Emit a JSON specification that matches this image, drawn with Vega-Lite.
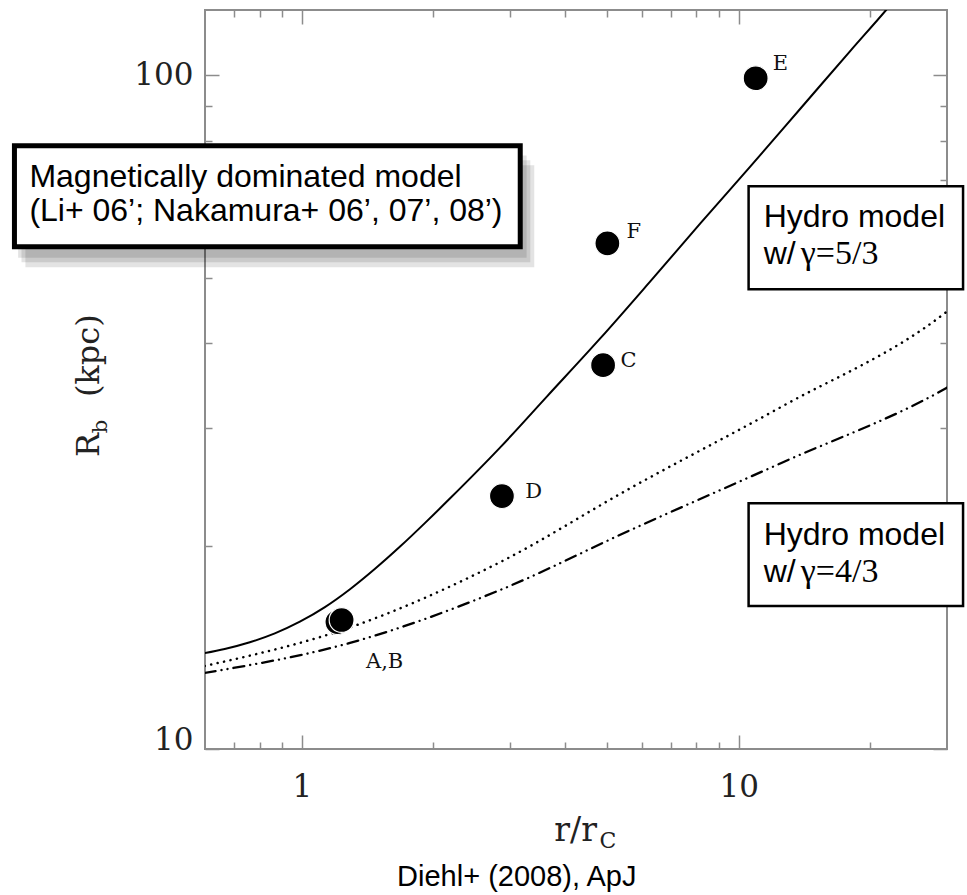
{
  "$schema": "https://vega.github.io/schema/vega-lite/v6.json",
  "width": 742,
  "height": 739,
  "autosize": "none",
  "padding": {"left": 205, "top": 10, "right": 20, "bottom": 146},
  "background": "white",
  "config": {
    "view": {"stroke": "#8c8c8c", "strokeWidth": 2},
    "axis": {"domain": false, "grid": false, "tickColor": "#8c8c8c", "tickWidth": 1.5, "labelFont": "DejaVu Serif", "labelFontSize": 31, "labelColor": "#222", "title": null}
  },
  "datasets": {
    "solid": [
      {"r": 0.599, "R": 13.88}, {"r": 0.6657, "R": 14.076}, {"r": 0.76, "R": 14.402}, {"r": 0.8671, "R": 14.846},
      {"r": 0.9895, "R": 15.45}, {"r": 1.1291, "R": 16.239}, {"r": 1.2887, "R": 17.262}, {"r": 1.4705, "R": 18.511},
      {"r": 1.678, "R": 19.972}, {"r": 1.9148, "R": 21.658}, {"r": 2.185, "R": 23.556}, {"r": 2.8456, "R": 28.037},
      {"r": 3.647, "R": 33.406}, {"r": 4.826, "R": 40.719}, {"r": 6.2839, "R": 49.486}, {"r": 8.1811, "R": 60.316},
      {"r": 10.654, "R": 73.3}, {"r": 13.874, "R": 89.34}, {"r": 18.066, "R": 108.91}, {"r": 21.74, "R": 124.9},
      {"r": 22.677, "R": 128.99}
    ],
    "dotted": [
      {"r": 0.599, "R": 13.28}, {"r": 1.337, "R": 15.28}, {"r": 2.845, "R": 18.94}, {"r": 5.65, "R": 24.39},
      {"r": 12.49, "R": 32.17}, {"r": 29.84, "R": 44.5}, {"r": 30.5, "R": 45.0}
    ],
    "dashdot": [
      {"r": 0.599, "R": 12.97}, {"r": 1.289, "R": 14.37}, {"r": 2.845, "R": 17.22}, {"r": 5.65, "R": 21.13},
      {"r": 12.49, "R": 26.56}, {"r": 29.84, "R": 34.32}, {"r": 30.5, "R": 34.6}
    ],
    "points": [
      {"id": "B", "r": 1.206, "R": 15.43}, {"id": "A", "r": 1.233, "R": 15.54},
      {"id": "D", "r": 2.871, "R": 23.74}, {"id": "C", "r": 4.894, "R": 37.13},
      {"id": "F", "r": 5.006, "R": 56.3}, {"id": "E", "r": 10.94, "R": 99.0}
    ],
    "ptlabels": [
      {"t": "E", "r": 11.97, "R": 101.7}, {"t": "F", "r": 5.535, "R": 57.3},
      {"t": "C", "r": 5.363, "R": 36.88}, {"t": "D", "r": 3.247, "R": 23.57},
      {"t": "A,B", "r": 1.402, "R": 13.19}
    ],
    "shadow": [
      {"r": 0.228, "r2": 3.334, "R": 74.8, "R2": 52.8},
      {"r": 0.2328, "r2": 3.405, "R": 73.55, "R2": 51.9},
      {"r": 0.224, "r2": 3.27, "R": 76.0, "R2": 53.6}
    ],
    "magbox": [{"r": 0.2197, "r2": 3.162, "R": 78.6, "R2": 55.67}],
    "hydroboxes": [
      {"r": 10.54, "r2": 32.65, "R": 68.45, "R2": 48.14},
      {"r": 10.54, "r2": 32.65, "R": 23.17, "R2": 16.3}
    ],
    "sanstext": [
      {"t": "Magnetically dominated model", "r": 0.2377, "R": 68.22},
      {"t": "(Li+ 06’; Nakamura+ 06’, 07’, 08’)", "r": 0.2377, "R": 60.8},
      {"t": "Hydro model", "r": 11.41, "R": 59.5},
      {"t": "w/", "r": 11.41, "R": 52.44},
      {"t": "Hydro model", "r": 11.41, "R": 20.08},
      {"t": "w/", "r": 11.41, "R": 17.69}
    ],
    "seriftext": [
      {"t": "γ=5/3", "r": 13.88, "R": 52.44},
      {"t": "γ=4/3", "r": 13.88, "R": 17.69}
    ],
    "xtitle": [{"t": "r/r", "r": 3.784, "R": 7.304}],
    "xsub": [{"t": "C", "r": 4.8, "R": 7.13}],
    "ytitle": [{"t": "R", "r": 0.344, "R": 27.12}, {"t": "(kpc)", "r": 0.344, "R": 33.29}],
    "ysub": [{"t": "b", "r": 0.357, "R": 29.43}],
    "caption": [{"t": "Diehl+ (2008), ApJ", "r": 1.652, "R": 6.26}]
  },
  "resolve": {"axis": {"x": "independent", "y": "independent"}},
  "layer": [
    {
      "data": {"name": "solid"},
      "mark": {"type": "line", "color": "black", "strokeWidth": 2, "clip": true, "interpolate": "monotone"},
      "encoding": {
        "x": {"field": "r", "type": "quantitative", "scale": {"type": "log", "domain": [0.6, 30], "nice": false},
              "axis": {"orient": "bottom", "values": [1, 10], "tickSize": -14, "labelPadding": 37, "labelExpr": "format(datum.value, 'd')"}},
        "y": {"field": "R", "type": "quantitative", "scale": {"type": "log", "domain": [10, 125], "nice": false},
              "axis": {"orient": "left", "values": [10, 100], "tickSize": -14, "labelPadding": 26, "labelExpr": "format(datum.value, 'd')",
                       "labelBaseline": {"condition": {"test": "datum.value <= 10", "value": "alphabetic"}, "value": "middle"}}}
      }
    },
    {
      "data": {"name": "dotted"},
      "mark": {"type": "line", "color": "black", "strokeWidth": 2.5, "clip": true, "interpolate": "monotone", "strokeDash": [0.1, 6.5], "strokeCap": "round"},
      "encoding": {
        "x": {"field": "r", "type": "quantitative", "scale": {"type": "log", "domain": [0.6, 30], "nice": false},
              "axis": {"orient": "bottom", "values": [0.7, 0.8, 0.9, 2, 3, 4, 5, 6, 7, 8, 9, 20], "tickSize": -7, "labels": false}},
        "y": {"field": "R", "type": "quantitative", "scale": {"type": "log", "domain": [10, 125], "nice": false},
              "axis": {"orient": "left", "values": [20, 30, 40, 50, 60, 70, 80, 90], "tickSize": -7, "labels": false}}
      }
    },
    {
      "data": {"name": "dashdot"},
      "mark": {"type": "line", "color": "black", "strokeWidth": 2.3, "clip": true, "interpolate": "monotone", "strokeDash": [11, 6, 0.1, 6, 0.1, 6], "strokeCap": "round"},
      "encoding": {
        "x": {"field": "r", "type": "quantitative", "scale": {"type": "log", "domain": [0.6, 30], "nice": false},
              "axis": {"orient": "top", "values": [1, 10], "tickSize": -14, "labels": false}},
        "y": {"field": "R", "type": "quantitative", "scale": {"type": "log", "domain": [10, 125], "nice": false},
              "axis": {"orient": "right", "values": [10, 100], "tickSize": -14, "labels": false}}
      }
    },
    {
      "data": {"name": "points"},
      "mark": {"type": "circle", "size": 620, "color": "black", "opacity": 1, "stroke": "white", "strokeWidth": 1.2},
      "encoding": {
        "x": {"field": "r", "type": "quantitative", "scale": {"type": "log", "domain": [0.6, 30], "nice": false},
              "axis": {"orient": "top", "values": [0.7, 0.8, 0.9, 2, 3, 4, 5, 6, 7, 8, 9, 20], "tickSize": -7, "labels": false}},
        "y": {"field": "R", "type": "quantitative", "scale": {"type": "log", "domain": [10, 125], "nice": false},
              "axis": {"orient": "right", "values": [20, 30, 40, 50, 60, 70, 80, 90], "tickSize": -7, "labels": false}}
      }
    },
    {
      "data": {"name": "ptlabels"},
      "mark": {"type": "text", "font": "DejaVu Serif", "fontSize": 21, "align": "left", "baseline": "alphabetic", "color": "#111"},
      "encoding": {
        "x": {"field": "r", "type": "quantitative", "axis": null},
        "y": {"field": "R", "type": "quantitative", "axis": null},
        "text": {"field": "t"}
      }
    },
    {
      "data": {"name": "shadow"},
      "mark": {"type": "rect", "color": "black", "opacity": 0.11},
      "encoding": {
        "x": {"field": "r", "type": "quantitative", "axis": null}, "x2": {"field": "r2"},
        "y": {"field": "R", "type": "quantitative", "axis": null}, "y2": {"field": "R2"}
      }
    },
    {
      "data": {"name": "magbox"},
      "mark": {"type": "rect", "fill": "white", "stroke": "black", "strokeWidth": 5},
      "encoding": {
        "x": {"field": "r", "type": "quantitative", "axis": null}, "x2": {"field": "r2"},
        "y": {"field": "R", "type": "quantitative", "axis": null}, "y2": {"field": "R2"}
      }
    },
    {
      "data": {"name": "hydroboxes"},
      "mark": {"type": "rect", "fill": "white", "stroke": "black", "strokeWidth": 2.5},
      "encoding": {
        "x": {"field": "r", "type": "quantitative", "axis": null}, "x2": {"field": "r2"},
        "y": {"field": "R", "type": "quantitative", "axis": null}, "y2": {"field": "R2"}
      }
    },
    {
      "data": {"name": "sanstext"},
      "mark": {"type": "text", "font": "Liberation Sans", "fontSize": 32, "align": "left", "baseline": "alphabetic", "color": "black"},
      "encoding": {
        "x": {"field": "r", "type": "quantitative", "axis": null},
        "y": {"field": "R", "type": "quantitative", "axis": null},
        "text": {"field": "t"}
      }
    },
    {
      "data": {"name": "seriftext"},
      "mark": {"type": "text", "font": "Liberation Serif", "fontSize": 34, "align": "left", "baseline": "alphabetic", "color": "black"},
      "encoding": {
        "x": {"field": "r", "type": "quantitative", "axis": null},
        "y": {"field": "R", "type": "quantitative", "axis": null},
        "text": {"field": "t"}
      }
    },
    {
      "data": {"name": "xtitle"},
      "mark": {"type": "text", "font": "DejaVu Serif", "fontSize": 33, "align": "left", "baseline": "alphabetic", "color": "#222"},
      "encoding": {
        "x": {"field": "r", "type": "quantitative", "axis": null},
        "y": {"field": "R", "type": "quantitative", "axis": null},
        "text": {"field": "t"}
      }
    },
    {
      "data": {"name": "xsub"},
      "mark": {"type": "text", "font": "DejaVu Serif", "fontSize": 22, "align": "left", "baseline": "alphabetic", "color": "#222"},
      "encoding": {
        "x": {"field": "r", "type": "quantitative", "axis": null},
        "y": {"field": "R", "type": "quantitative", "axis": null},
        "text": {"field": "t"}
      }
    },
    {
      "data": {"name": "ytitle"},
      "mark": {"type": "text", "font": "DejaVu Serif", "fontSize": 32, "align": "left", "baseline": "alphabetic", "angle": 270, "color": "#222"},
      "encoding": {
        "x": {"field": "r", "type": "quantitative", "axis": null},
        "y": {"field": "R", "type": "quantitative", "axis": null},
        "text": {"field": "t"}
      }
    },
    {
      "data": {"name": "ysub"},
      "mark": {"type": "text", "font": "DejaVu Serif", "fontSize": 21, "align": "left", "baseline": "alphabetic", "angle": 270, "color": "#222"},
      "encoding": {
        "x": {"field": "r", "type": "quantitative", "axis": null},
        "y": {"field": "R", "type": "quantitative", "axis": null},
        "text": {"field": "t"}
      }
    },
    {
      "data": {"name": "caption"},
      "mark": {"type": "text", "font": "Liberation Sans", "fontSize": 29, "align": "left", "baseline": "alphabetic", "color": "black"},
      "encoding": {
        "x": {"field": "r", "type": "quantitative", "axis": null},
        "y": {"field": "R", "type": "quantitative", "axis": null},
        "text": {"field": "t"}
      }
    }
  ]
}
